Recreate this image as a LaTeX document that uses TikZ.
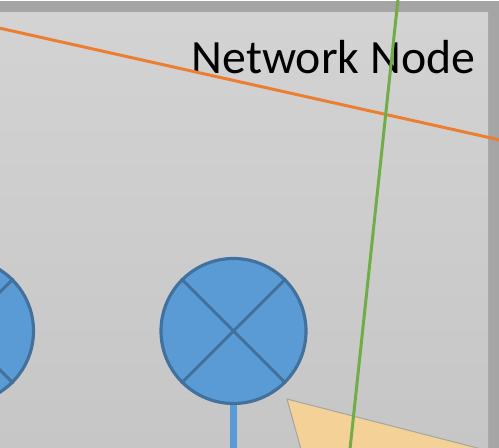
\documentclass[tikz,border=0pt]{standalone}
\usepackage{fontspec}
\setmainfont{Carlito}
\usetikzlibrary{positioning}
\definecolor{panelframe}{HTML}{A5A5A5}
\definecolor{paneltop}{HTML}{D3D3D3}
\definecolor{panelbot}{HTML}{C6C6C6}
\definecolor{lampblue}{HTML}{5B9BD5}
\definecolor{lampedge}{HTML}{41719C}
\definecolor{linkorange}{HTML}{ED7D31}
\definecolor{linkgreen}{HTML}{70AD47}
\definecolor{wedgefill}{HTML}{F4D196}
\tikzset{
  lamp/.style={circle,draw=lampedge,fill=lampblue,line width=1.8pt,minimum size=145*0.02cm,inner sep=0pt},
  lampcross/.style={draw=lampedge,line width=1.7pt},
  stem/.style={draw=lampblue,line width=4.5pt},
  link/.style={line width=1.7pt}
}
\begin{document}
\begin{tikzpicture}[x=0.02cm,y=-0.02cm]
  \useasboundingbox (0,0) rectangle (499,448);
  \clip (0,0) rectangle (499,448);
  \fill[white] (0,0) rectangle (499,448);
  \fill[panelframe] (0,1) rectangle (499,448);
  \shade[top color=paneltop,bottom color=panelbot] (-1,13) rectangle (488,448);
  \node[anchor=base east,font=\fontsize{27.2}{30}\selectfont,inner sep=0pt](title) at (475.5,74) {Network Node};
  \node[lamp](lampa) at (-39,331) {};
  \node[lamp](lampb) at (233.5,331) {};
  \draw[lampcross] (lampa.45)--(lampa.225);
  \draw[lampcross] (lampa.135)--(lampa.315);
  \draw[lampcross] (lampb.45)--(lampb.225);
  \draw[lampcross] (lampb.135)--(lampb.315);
  \coordinate (stemend) at (233.5,449);
  \draw[stem] (lampb.south)--(stemend);
  \filldraw[fill=wedgefill,draw=black!35,line width=0.6pt] (287,399)--(520,459)--(520,520)--(315,500)--cycle;
  \coordinate (orangea) at (-1,28);
  \coordinate (orangeb) at (500,140);
  \coordinate (greena) at (398,-1);
  \coordinate (greenb) at (350,449);
  \draw[link,linkorange] (orangea)--(orangeb);
  \draw[link,linkgreen] (greena)--(greenb);
\end{tikzpicture}
\end{document}
